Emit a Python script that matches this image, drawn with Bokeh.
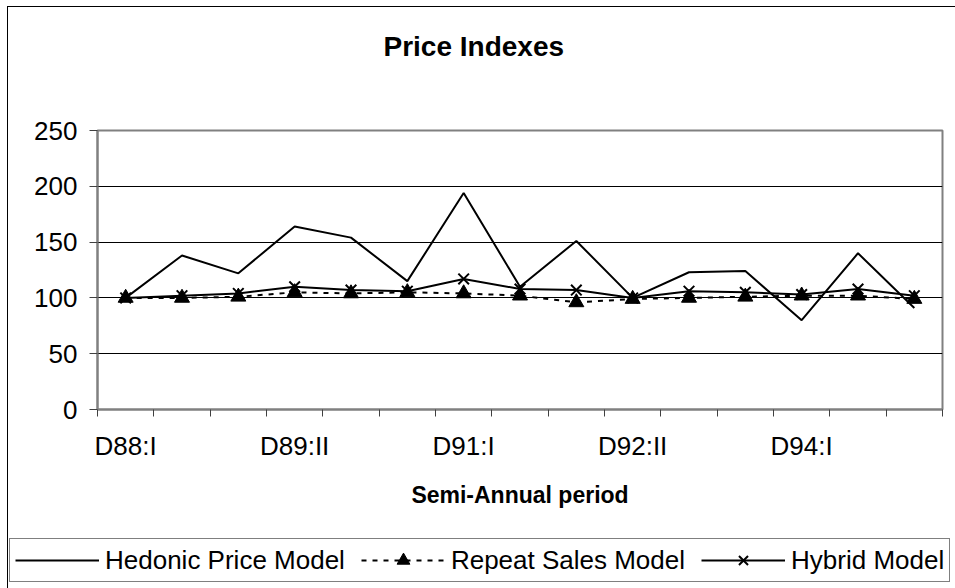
from bokeh.plotting import figure
from bokeh.layouts import column
from bokeh.models import (Range1d, FixedTicker, Legend, LegendItem, Label)
from bokeh.embed import file_html
from bokeh.resources import INLINE

periods = ["D88:I", "D88:II", "D89:I", "D89:II", "D90:I", "D90:II", "D91:I", "D91:II",
           "D92:I", "D92:II", "D93:I", "D93:II", "D94:I", "D94:II", "D95:I"]
hedonic = [100, 138, 122, 164, 154, 115, 194, 110, 151, 100, 123, 124, 80, 140, 91]
repeat_sales = [100, 100, 101, 105, 104, 105, 104, 102, 96, 99, 100, 101, 102, 102, 99]
hybrid = [100, 102, 104, 110, 107, 106, 117, 108, 107, 100, 106, 105, 103, 108, 102]
y_ticks = [0, 50, 100, 150, 200, 250]
label_every = 3
series_names = ["Hedonic Price Model", "Repeat Sales Model", "Hybrid Model"]

FONT = "Liberation Sans"
W = 947
xs = list(range(len(periods)))

# ---- title strip ----
t = figure(frame_width=W, frame_height=90, output_backend="svg", toolbar_location=None,
           x_axis_type=None, y_axis_type=None, x_range=Range1d(0, 1), y_range=Range1d(0, 1),
           min_border=0)
t.outline_line_color = None
t.xgrid.visible = False
t.ygrid.visible = False
t.add_layout(Label(x=286, y=51, x_units="screen", y_units="screen", text="Price Indexes",
                   text_font=FONT, text_font_size="28px", text_font_style="bold",
                   text_align="left", text_baseline="middle", text_color="black"))

# ---- main chart ----
p = figure(frame_width=845, frame_height=279, output_backend="svg", toolbar_location=None,
           x_range=Range1d(-0.5, len(periods) - 0.5), y_range=Range1d(0, 250),
           min_border_left=89, min_border_right=13, min_border_top=33, min_border_bottom=121)
p.background_fill_color = "white"
p.border_fill_color = "white"
p.outline_line_color = "#808080"
p.outline_line_width = 2

xa = p.xaxis[0]
major = xs[::label_every]
xa.ticker = FixedTicker(ticks=major, minor_ticks=[i - 0.5 for i in range(len(periods) + 1)])
xa.major_label_overrides = {i: periods[i] for i in major}
xa.major_tick_out = 0
xa.major_tick_in = 0
xa.minor_tick_out = 7
xa.minor_tick_in = 0
xa.minor_tick_line_color = "#404040"
xa.minor_tick_line_width = 1
xa.axis_line_color = "#808080"
xa.axis_line_width = 2
xa.major_label_text_font = FONT
xa.major_label_text_font_size = "26px"
xa.major_label_text_color = "black"
xa.major_label_standoff = 14
xa.axis_label = "Semi-Annual period"
xa.axis_label_text_font = FONT
xa.axis_label_text_font_size = "23px"
xa.axis_label_text_font_style = "bold"
xa.axis_label_text_color = "black"
xa.axis_label_standoff = 18

ya = p.yaxis[0]
ya.ticker = FixedTicker(ticks=y_ticks)
ya.major_tick_out = 8
ya.major_tick_in = 0
ya.minor_tick_out = 0
ya.minor_tick_in = 0
ya.major_tick_line_color = "#404040"
ya.axis_line_color = "#808080"
ya.axis_line_width = 2
ya.major_label_text_font = FONT
ya.major_label_text_font_size = "26px"
ya.major_label_text_color = "black"
ya.major_label_standoff = 12

p.xgrid.visible = False
p.ygrid.ticker = FixedTicker(ticks=y_ticks[1:-1])
p.ygrid.grid_line_color = "black"
p.ygrid.grid_line_width = 1

HED = dict(line_color="black", line_width=2)
REP_L = dict(line_color="black", line_width=2, line_dash="5 6")
REP_M = dict(marker="triangle", size=15, fill_color="black", line_color="black")
HYB_L = dict(line_color="black", line_width=2)
HYB_M = dict(marker="x", size=15, line_color="black", line_width=2)

p.line(xs, hedonic, **HED)
p.line(xs, repeat_sales, **REP_L)
p.scatter(xs, repeat_sales, **REP_M)
p.line(xs, hybrid, **HYB_L)
p.scatter(xs, hybrid, **HYB_M)

# ---- legend strip (same series, drawn out of view; only the legend shows) ----
q = figure(frame_width=W, frame_height=58, output_backend="svg", toolbar_location=None,
           x_axis_type=None, y_axis_type=None,
           x_range=Range1d(-0.5, len(periods) - 0.5), y_range=Range1d(1000, 1001),
           min_border=0)
q.outline_line_color = None
q.xgrid.visible = False
q.ygrid.visible = False
k_h = q.line(xs, hedonic, **HED)
k_rl = q.line(xs, repeat_sales, **REP_L)
k_rm = q.scatter(xs, repeat_sales, **REP_M)
k_yl = q.line(xs, hybrid, **HYB_L)
k_ym = q.scatter(xs, hybrid, **HYB_M)

legend = Legend(items=[
    LegendItem(label=series_names[0], renderers=[k_h]),
    LegendItem(label=series_names[1], renderers=[k_rl, k_rm]),
    LegendItem(label=series_names[2], renderers=[k_yl, k_ym]),
], orientation="horizontal", location=(1, 6))
legend.label_text_font = FONT
legend.label_text_font_size = "26px"
legend.label_text_color = "black"
legend.glyph_width = 84
legend.glyph_height = 32
legend.label_standoff = 6
legend.spacing = 16
legend.padding = 5
legend.margin = 0
legend.border_line_color = "black"
legend.border_line_width = 1
legend.background_fill_color = "white"
legend.background_fill_alpha = 1
q.add_layout(legend)

page = column(t, p, q, spacing=0)
page.styles = {"margin-left": "7px", "margin-top": "6px",
               "border-left": "1px solid black", "border-top": "1px solid black"}

open("out.html", "w").write(file_html(page, INLINE))
